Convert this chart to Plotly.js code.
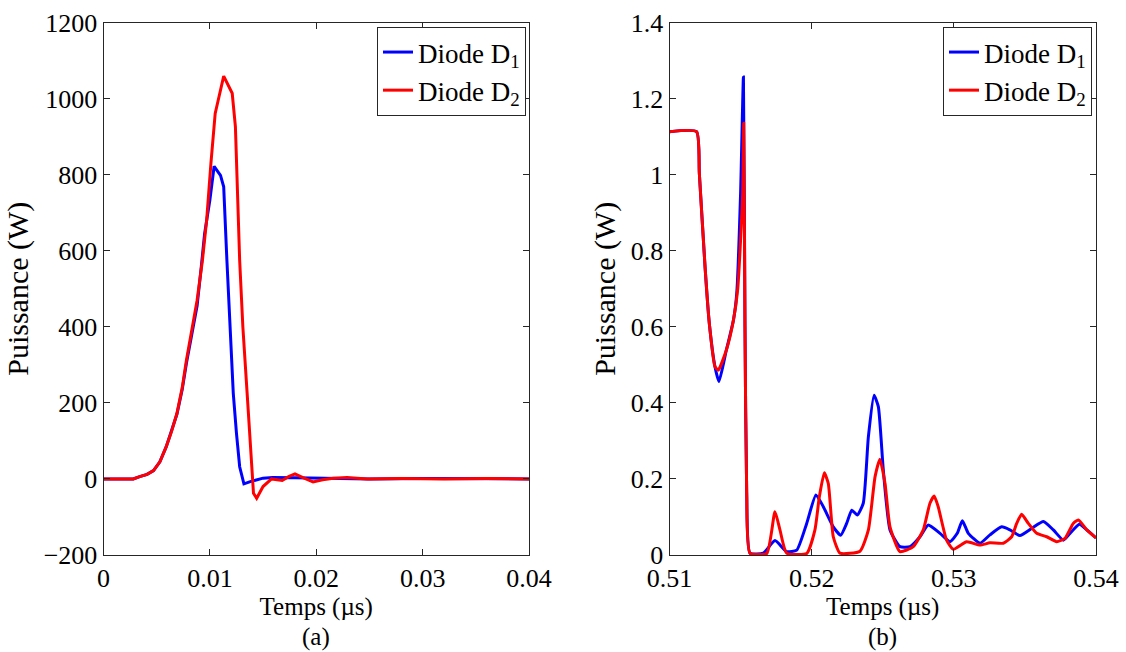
<!DOCTYPE html>
<html>
<head>
<meta charset="utf-8">
<script src="https://cdn.plot.ly/plotly-3.0.1.min.js"></script>
<style>html,body{margin:0;padding:0;background:#fff;}#chart{width:1126px;height:652px;}</style>
</head>
<body>
<div id="chart"></div>
<script>
// ---- (a) Left panel data ----
const tA_D1 = [0, 0.0028, 0.0034, 0.0041, 0.0047, 0.0053, 0.0059, 0.0064, 0.0069, 0.0074, 0.0078, 0.0083, 0.0088, 0.0092, 0.0095, 0.0100, 0.0104, 0.0110, 0.0113, 0.0116, 0.0119, 0.0122, 0.0125, 0.0128, 0.0132, 0.0138, 0.0150, 0.0159, 0.018, 0.020, 0.022, 0.025, 0.030, 0.035, 0.040];
const pA_D1 = [0, 0, 6, 12, 22, 45, 85, 125, 170, 235, 305, 380, 455, 560, 644, 733, 822, 798, 768, 575, 400, 225, 120, 32, -13, -7, 2, 4, 3, 2, 1, 0, 1, 0, 0];
const tA_D2 = [0, 0.0028, 0.0034, 0.0041, 0.0047, 0.0053, 0.0059, 0.0064, 0.0069, 0.0074, 0.0078, 0.0083, 0.0088, 0.0093, 0.0097, 0.0101, 0.0105, 0.0109, 0.0113, 0.0121, 0.0124, 0.0128, 0.0131, 0.0135, 0.0141, 0.0144, 0.0150, 0.0158, 0.0163, 0.0168, 0.0174, 0.0180, 0.0187, 0.0197, 0.0206, 0.0216, 0.0229, 0.0248, 0.028, 0.032, 0.036, 0.040];
const pA_D2 = [0, 0, 6, 12, 22, 45, 85, 125, 172, 240, 313, 390, 470, 575, 681, 830, 961, 1010, 1059, 1014, 926, 575, 400, 226, -38, -51, -20, 0, -2, -4, 6, 13, 4, -8, -2, 2, 4, 0, 1, 0, 1, 0];

// ---- (b) Right panel data ----
const tB_D1 = [0.51, 0.5119, 0.5121, 0.5125, 0.5128, 0.5132, 0.51348, 0.5140, 0.5145, 0.51473, 0.5150, 0.5152, 0.51531, 0.51543, 0.51566, 0.5166, 0.51742, 0.51824, 0.51895, 0.51965, 0.5203, 0.52082, 0.52152, 0.52204, 0.52246, 0.52282, 0.52321, 0.52363, 0.52399, 0.52439, 0.52469, 0.52504, 0.52551, 0.52621, 0.52692, 0.52762, 0.5282, 0.52903, 0.52973, 0.53024, 0.5306, 0.53102, 0.53184, 0.53254, 0.53337, 0.53395, 0.53465, 0.53548, 0.5363, 0.537, 0.5377, 0.53817, 0.53883, 0.53935, 0.54];
const pB_D1 = [1.113, 1.113, 1.003, 0.758, 0.609, 0.495, 0.456, 0.539, 0.618, 0.688, 0.95, 1.257, 0.6, 0.163, 0.005, 0.005, 0.038, 0.009, 0.013, 0.083, 0.158, 0.127, 0.074, 0.052, 0.083, 0.118, 0.105, 0.136, 0.311, 0.42, 0.39, 0.223, 0.066, 0.022, 0.022, 0.048, 0.079, 0.057, 0.035, 0.057, 0.09, 0.057, 0.031, 0.053, 0.074, 0.066, 0.051, 0.07, 0.088, 0.066, 0.039, 0.057, 0.081, 0.066, 0.045];
const tB_D2 = [0.51, 0.5119, 0.5121, 0.5125, 0.5128, 0.5132, 0.51343, 0.5140, 0.5145, 0.5148, 0.51515, 0.51522, 0.51531, 0.51543, 0.51566, 0.51684, 0.51742, 0.51777, 0.51824, 0.51965, 0.52023, 0.52054, 0.52089, 0.52117, 0.52152, 0.52199, 0.5234, 0.52399, 0.52446, 0.5248, 0.52516, 0.52551, 0.52621, 0.52715, 0.52785, 0.52832, 0.52862, 0.5289, 0.52949, 0.52996, 0.5309, 0.53184, 0.53254, 0.53348, 0.53407, 0.53442, 0.53477, 0.53524, 0.53583, 0.53653, 0.53723, 0.53782, 0.5384, 0.53876, 0.53935, 0.54];
const pB_D2 = [1.113, 1.113, 1.003, 0.758, 0.609, 0.495, 0.486, 0.539, 0.618, 0.7, 0.951, 1.135, 0.6, 0.163, 0.005, 0.004, 0.114, 0.066, 0.005, 0.004, 0.066, 0.153, 0.216, 0.188, 0.048, 0.005, 0.01, 0.066, 0.206, 0.252, 0.188, 0.074, 0.009, 0.022, 0.066, 0.136, 0.155, 0.127, 0.039, 0.015, 0.035, 0.026, 0.032, 0.031, 0.048, 0.083, 0.107, 0.083, 0.057, 0.048, 0.035, 0.044, 0.083, 0.092, 0.066, 0.045];

const seriesNames = ['Diode D<sub>1</sub>', 'Diode D<sub>2</sub>'];
const xTitle = 'Temps (µs)';
const yTitle = 'Puissance (W)';
const captions = ['(a)', '(b)'];

const FONT = 'Liberation Serif';
const BLUE = '#0000ff', RED = '#ff0000';
const lw = 3;

const traces = [
  {x: tA_D1, y: pA_D1, xaxis: 'x', yaxis: 'y', name: seriesNames[0], legend: 'legend', mode: 'lines', line: {color: BLUE, width: lw}},
  {x: tA_D2, y: pA_D2, xaxis: 'x', yaxis: 'y', name: seriesNames[1], legend: 'legend', mode: 'lines', line: {color: RED, width: lw}},
  {x: tB_D1, y: pB_D1, xaxis: 'x2', yaxis: 'y2', name: seriesNames[0], legend: 'legend2', mode: 'lines', line: {color: BLUE, width: lw, shape: 'spline', smoothing: 0.5}},
  {x: tB_D2, y: pB_D2, xaxis: 'x2', yaxis: 'y2', name: seriesNames[1], legend: 'legend2', mode: 'lines', line: {color: RED, width: lw, shape: 'spline', smoothing: 0.5}}
];

const axCommon = {
  showgrid: false, zeroline: false, showline: true, mirror: 'ticks',
  linecolor: '#262626', linewidth: 1, ticks: 'inside', ticklen: 6, tickcolor: '#262626',
  tickfont: {family: FONT, size: 26, color: '#000'}, automargin: false
};
const ydom = [1 - 555/652, 1 - 22.5/652];

const layout = {
  width: 1126, height: 652,
  margin: {l: 0, r: 0, t: 0, b: 0},
  paper_bgcolor: '#fff', plot_bgcolor: '#fff',
  font: {family: FONT, size: 26, color: '#000'},
  showlegend: true,
  xaxis: Object.assign({}, axCommon, {domain: [103.5/1126, 529/1126], anchor: 'y', range: [0, 0.04], tick0: 0, dtick: 0.01,
    title: {text: xTitle, font: {family: FONT, size: 25}, standoff: 0}}),
  yaxis: Object.assign({}, axCommon, {domain: ydom, anchor: 'x', range: [-200, 1200], tick0: 0, dtick: 200,
    title: {text: yTitle, font: {family: FONT, size: 30}, standoff: 6}}),
  xaxis2: Object.assign({}, axCommon, {domain: [669.5/1126, 1096/1126], anchor: 'y2', range: [0.51, 0.54], tick0: 0.51, dtick: 0.01,
    title: {text: xTitle, font: {family: FONT, size: 25}, standoff: 0}}),
  yaxis2: Object.assign({}, axCommon, {domain: ydom, anchor: 'x2', range: [0, 1.4], tick0: 0, dtick: 0.2,
    title: {text: yTitle, font: {family: FONT, size: 30}, standoff: 6}}),
  legend: {x: 526/1126, xanchor: 'right', y: 1 - 27/652, yanchor: 'top', bgcolor: '#fff', bordercolor: '#262626', borderwidth: 1,
    font: {family: FONT, size: 27, color: '#000'}, tracegroupgap: 0, itemwidth: 30},
  legend2: {x: 1092/1126, xanchor: 'right', y: 1 - 27/652, yanchor: 'top', bgcolor: '#fff', bordercolor: '#262626', borderwidth: 1,
    font: {family: FONT, size: 27, color: '#000'}, tracegroupgap: 0, itemwidth: 30},
  annotations: [
    {text: captions[0], xref: 'paper', yref: 'paper', x: 316/1126, y: 1 - 637/652, xanchor: 'center', yanchor: 'middle', showarrow: false, font: {family: FONT, size: 25}},
    {text: captions[1], xref: 'paper', yref: 'paper', x: 882/1126, y: 1 - 637/652, xanchor: 'center', yanchor: 'middle', showarrow: false, font: {family: FONT, size: 25}}
  ]
};

Plotly.newPlot('chart', traces, layout, {staticPlot: true, displayModeBar: false});
</script>
</body>
</html>
